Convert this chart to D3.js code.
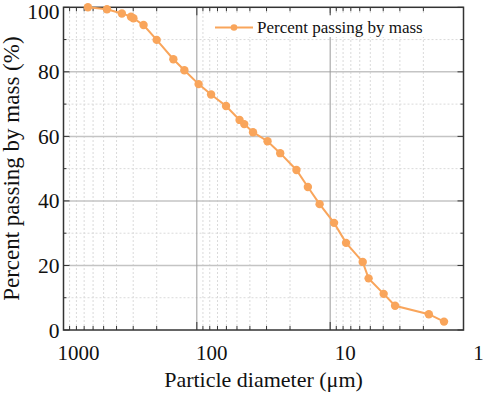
<!DOCTYPE html>
<html><head><meta charset="utf-8">
<script src="https://cdn.jsdelivr.net/npm/d3@7"></script>
<style>body{margin:0;background:#fff}svg{display:block}</style></head>
<body>
<script>
const diameter=[656,472,365,312,299,251,200,150,124,97,78.2,60.4,47.8,44.1,37.9,29.5,23.7,17.9,14.7,12.0,9.35,7.6,5.7,5.15,3.97,3.26,1.82,1.40];
const percent=[100,99.4,98.1,97.1,96.6,94.5,89.9,83.9,80.5,76.2,73.0,69.4,65.1,63.8,61.3,58.5,54.8,49.6,44.3,39.0,33.2,27.0,21.1,16.0,11.2,7.5,4.9,2.6];
const xTicks=[1000,100,10,1];
const yTicks=[0,20,40,60,80,100];
const yMinor=[10,30,50,70,90];
const seriesName="Percent passing by mass";
const xTitle="Particle diameter (μm)";
const yTitle="Percent passing by mass (%)";

const W=484,H=393;
const m={l:63.5,r:20.5,t:7.3,b:63};
const svg=d3.select("body").append("svg").attr("width",W).attr("height",H);
const x=d3.scaleLog().domain([1000,1]).range([m.l,W-m.r]);
const y=d3.scaleLinear().domain([0,100]).range([H-m.b,m.t]);
const color="#F9A55B";
const font="'Liberation Serif','Times New Roman',serif";

const xMinor=[];
[1,10,100].forEach(k=>{for(let i=2;i<=9;i++)xMinor.push(i*k);});

const g=svg.append("g");
// minor grid
g.selectAll(".vmin").data(xMinor).join("line")
 .attr("x1",d=>x(d)).attr("x2",d=>x(d)).attr("y1",y(0)).attr("y2",y(100))
 .attr("stroke","#dadada").attr("stroke-width",1).attr("stroke-dasharray","2,2");
g.selectAll(".hmin").data(yMinor).join("line")
 .attr("x1",x(1000)).attr("x2",x(1)).attr("y1",d=>y(d)).attr("y2",d=>y(d))
 .attr("stroke","#dadada").attr("stroke-width",1).attr("stroke-dasharray","2,2");
// major grid
g.selectAll(".hmaj").data([20,40,60,80]).join("line")
 .attr("x1",x(1000)).attr("x2",x(1)).attr("y1",d=>y(d)).attr("y2",d=>y(d))
 .attr("stroke","#c4c4c4").attr("stroke-width",1.5);
g.selectAll(".vmaj").data([100,10]).join("line")
 .attr("x1",d=>x(d)).attr("x2",d=>x(d)).attr("y1",y(0)).attr("y2",y(100))
 .attr("stroke","#9a9a9a").attr("stroke-width",1);

// legend background
svg.append("rect").attr("x",208).attr("y",13).attr("width",220).attr("height",24).attr("fill","#fff");

// axes (inward ticks, mirrored)
const axisCol="#333";
function tickLines(sel,vals,len,side){
  sel.selectAll(null).data(vals).join("line")
   .attr("x1",d=>side==="b"||side==="t"?x(d):(side==="l"?x(1000):x(1)))
   .attr("x2",d=>side==="b"||side==="t"?x(d):(side==="l"?x(1000)+len:x(1)-len))
   .attr("y1",d=>side==="l"||side==="r"?y(d):(side==="b"?y(0):y(100)))
   .attr("y2",d=>side==="l"||side==="r"?y(d):(side==="b"?y(0)-len:y(100)+len))
   .attr("stroke",axisCol).attr("stroke-width",1);
}
const ax=svg.append("g");
["b","t"].forEach(s=>{tickLines(ax,xTicks,8,s);tickLines(ax,xMinor,4,s);});
["l","r"].forEach(s=>{tickLines(ax,yTicks,6,s);tickLines(ax,yMinor,3,s);});
ax.append("rect").attr("x",x(1000)).attr("y",y(100)).attr("width",x(1)-x(1000)).attr("height",y(0)-y(100))
 .attr("fill","none").attr("stroke",axisCol).attr("stroke-width",1.5);

// tick labels
svg.selectAll(".xl").data(xTicks).join("text")
 .attr("x",d=>x(d)+15).attr("y",y(0)+29.5).attr("text-anchor","middle")
 .attr("font-family",font).attr("font-size",21).attr("fill","#111").text(d=>d);
svg.selectAll(".yl").data(yTicks).join("text")
 .attr("x",m.l-4).attr("y",d=>Math.max(y(d)+7.5,19.4)).attr("text-anchor","end")
 .attr("font-family",font).attr("font-size",21.5).attr("fill","#111").text(d=>d);

// titles
svg.append("text").attr("x",(x(1000)+x(1))/2).attr("y",387).attr("text-anchor","middle")
 .attr("font-family",font).attr("font-size",22).attr("fill","#111").text(xTitle);
svg.append("text").attr("transform",`translate(19,${(y(0)+y(100))/2}) rotate(-90)`).attr("text-anchor","middle")
 .attr("font-family",font).attr("font-size",23).attr("fill","#111").text(yTitle);

// series
const data=diameter.map((d,i)=>({d,p:percent[i]}));
svg.append("path").datum(data).attr("fill","none").attr("stroke",color).attr("stroke-width",2)
 .attr("d",d3.line().x(d=>x(d.d)).y(d=>y(d.p)));
svg.selectAll(".pt").data(data).join("circle").attr("cx",d=>x(d.d)).attr("cy",d=>y(d.p)).attr("r",4.2).attr("fill",color);

// legend
svg.append("line").attr("x1",215).attr("x2",253).attr("y1",27.5).attr("y2",27.5).attr("stroke",color).attr("stroke-width",2);
svg.append("circle").attr("cx",234).attr("cy",27.5).attr("r",3.3).attr("fill",color);
svg.append("text").attr("x",257).attr("y",33).attr("font-family",font).attr("font-size",17).attr("fill","#111").text(seriesName);
</script>
</body></html>
